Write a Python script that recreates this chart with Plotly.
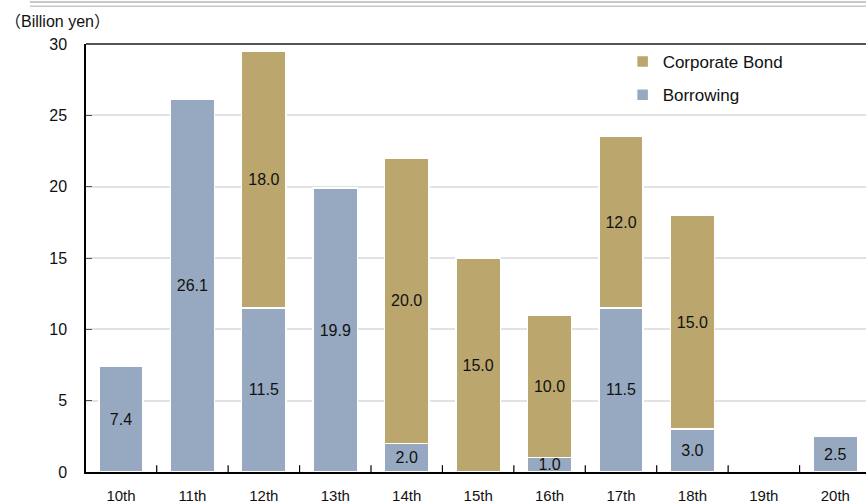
import plotly.graph_objects as go

# Bond issue rounds and financing breakdown (billion yen)
rounds = ["10th", "11th", "12th", "13th", "14th", "15th", "16th", "17th", "18th", "19th", "20th"]
borrowing = [7.4, 26.1, 11.5, 19.9, 2.0, 0.0, 1.0, 11.5, 3.0, 0.0, 2.5]
corporate_bond = [0.0, 0.0, 18.0, 0.0, 20.0, 15.0, 10.0, 12.0, 15.0, 0.0, 0.0]
y_ticks = [0, 5, 10, 15, 20, 25, 30]

BLUE = "#97A9C1"
TAN = "#BBA76E"
FONT = "Liberation Sans, Arial, sans-serif"
X_RANGE = [-0.49, 10.43]


def labels(values):
    return [f"{v:.1f}" if v > 0 else "" for v in values]


fig = go.Figure()
fig.add_trace(go.Bar(
    x=rounds, y=borrowing, name="Borrowing", legendgroup="b", legendrank=2,
    marker=dict(color=BLUE, line=dict(color="white", width=1.5)),
    text=labels(borrowing), textposition="inside", insidetextanchor="middle",
    textangle=0, textfont=dict(family=FONT, size=16, color="#111111"),
))
fig.add_trace(go.Bar(
    x=rounds, y=corporate_bond, name="Corporate Bond", legendgroup="c", legendrank=1,
    marker=dict(color=TAN, line=dict(color="white", width=1.5)),
    text=labels(corporate_bond), textposition="inside", insidetextanchor="middle",
    textangle=0, textfont=dict(family=FONT, size=16, color="#111111"),
))

# small separator ticks standing on the x axis between neighbouring rounds
boundaries = [i + 0.5 for i in range(len(rounds) - 1)]
separator_ticks = [
    dict(type="line", xref="x", yref="paper", x0=b, x1=b, y0=0, y1=0.016,
         line=dict(color="black", width=1.2))
    for b in boundaries
]

fig.update_layout(
    barmode="stack",
    bargap=0.38,
    width=866, height=504,
    margin=dict(l=86, r=0, t=44, b=32),
    plot_bgcolor="white", paper_bgcolor="white",
    font=dict(family=FONT, size=15, color="#111111"),
    uniformtext=dict(minsize=16, mode="show"),
    showlegend=True,
    legend=dict(
        x=0.688, y=1.0, xanchor="left", yanchor="top",
        font=dict(family=FONT, size=17, color="#111111"),
        itemwidth=30, tracegroupgap=8,
        traceorder="grouped",
        bgcolor="rgba(0,0,0,0)",
    ),
    xaxis=dict(
        range=X_RANGE,
        showline=True, linecolor="black", linewidth=1.5,
        ticks="", showgrid=False, ticklabelstandoff=9,
        tickfont=dict(family=FONT, size=15),
    ),
    yaxis=dict(
        range=[0, 30], tickvals=y_ticks,
        showline=True, linecolor="black", linewidth=1.5,
        ticks="inside", ticklen=6, tickcolor="#555555",
        showgrid=True, gridcolor="#E2E2E2", gridwidth=2,
        zeroline=False, ticklabelstandoff=14,
        tickfont=dict(family=FONT, size=16),
    ),
    annotations=[dict(
        text="（Billion yen）", xref="paper", yref="paper",
        x=-0.107, y=1.027, xanchor="left", yanchor="bottom",
        showarrow=False,
        font=dict(family="Liberation Sans, Noto Sans CJK JP, sans-serif", size=16, color="#111111"),
    )],
    shapes=[
        # dark frame line along the top of the plot area
        dict(type="line", xref="paper", yref="paper", x0=0, x1=1, y0=1, y1=1,
             line=dict(color="#555555", width=2)),
        # double rule across the very top of the page
        dict(type="line", xref="paper", yref="paper", x0=-0.072, x1=1.0,
             y0=1.098, y1=1.098, line=dict(color="#C8C8C8", width=2)),
        dict(type="line", xref="paper", yref="paper", x0=-0.072, x1=1.0,
             y0=1.088, y1=1.088, line=dict(color="#C8C8C8", width=1.5)),
    ] + separator_ticks,
)

fig.write_html("out.html")
